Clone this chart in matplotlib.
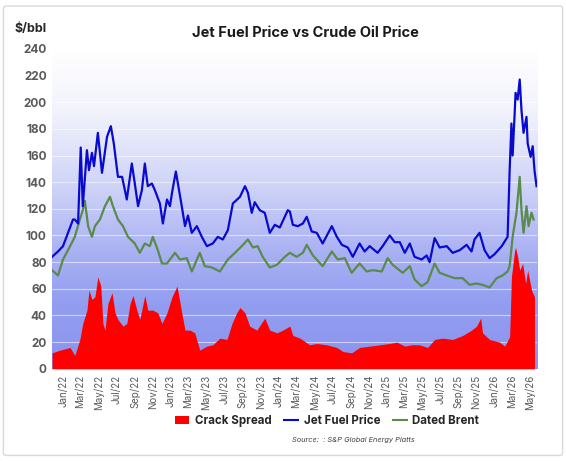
import matplotlib

matplotlib.use("Agg")
import matplotlib.pyplot as plt
import matplotlib.dates as mdates
from matplotlib.colors import LinearSegmentedColormap
from matplotlib.lines import Line2D
from matplotlib.patches import FancyBboxPatch, Patch
import numpy as np
import pandas as pd

plt.rcParams["font.family"] = ["Inter", "DejaVu Sans"]

# Jet fuel price, $/bbl
jet_dates = [
    "2021-11-25", "2021-12-15", "2022-01-01", "2022-02-04", "2022-02-10", "2022-02-21",
    "2022-03-02", "2022-03-09", "2022-03-23", "2022-03-30", "2022-04-09", "2022-04-16",
    "2022-04-29", "2022-05-13", "2022-05-30", "2022-06-12", "2022-06-22", "2022-07-06",
    "2022-07-20", "2022-08-05", "2022-08-22", "2022-09-01", "2022-09-12", "2022-09-25",
    "2022-10-05", "2022-10-15", "2022-10-29", "2022-11-08", "2022-11-25", "2022-12-05",
    "2022-12-19", "2022-12-29", "2023-01-05", "2023-01-18",
    "2023-02-07", "2023-02-18", "2023-02-28", "2023-03-13", "2023-03-30", "2023-04-16",
    "2023-05-03", "2023-05-23", "2023-06-09", "2023-06-26", "2023-07-13", "2023-07-30",
    "2023-08-23", "2023-09-09", "2023-09-19", "2023-10-02", "2023-10-12", "2023-10-29",
    "2023-11-15", "2023-12-02", "2023-12-19", "2024-01-05", "2024-02-01", "2024-02-08",
    "2024-02-18", "2024-03-06", "2024-03-23", "2024-04-05", "2024-04-22", "2024-05-09",
    "2024-05-29", "2024-06-29", "2024-07-16", "2024-08-02", "2024-08-22", "2024-09-08",
    "2024-10-01", "2024-10-18", "2024-11-04", "2024-12-01", "2024-12-18", "2025-01-11",
    "2025-01-28", "2025-02-14", "2025-03-03", "2025-03-20", "2025-04-05", "2025-04-29",
    "2025-05-16", "2025-05-26", "2025-06-12", "2025-06-29", "2025-07-23", "2025-08-12",
    "2025-09-05", "2025-09-28", "2025-10-15", "2025-10-25", "2025-11-11", "2025-11-28",
    "2025-12-15", "2026-01-01", "2026-01-25", "2026-02-14", "2026-02-21", "2026-02-27",
    "2026-03-03", "2026-03-10", "2026-03-13", "2026-03-20", "2026-03-27", "2026-04-02",
    "2026-04-09", "2026-04-19", "2026-04-23", "2026-05-03", "2026-05-10", "2026-05-16",
    "2026-05-23",
]
jet_price = [
    84, 88, 92, 112, 112, 109,
    166, 122, 164, 149, 162, 152,
    177, 147, 174, 182, 169, 144,
    144, 127, 154, 139, 122, 134,
    154, 137, 139, 134, 124, 109,
    127, 122, 132, 148,
    122, 107, 115, 102, 107, 99,
    92, 94, 99, 97, 104, 124,
    129, 137, 132, 117, 125, 119,
    117, 102, 108, 106, 119, 118,
    108, 107, 109, 114, 103, 102,
    94, 107, 99, 93, 91, 84,
    94, 88, 92, 87, 92, 100,
    95, 95, 87, 94, 84, 82,
    85, 80, 98, 91, 92, 87,
    89, 93, 88, 97, 102, 89,
    83, 86, 92, 99, 149, 184,
    160, 192, 207, 202, 217, 194,
    177, 189, 169, 159, 167, 149,
    137,
]

# Dated Brent, $/bbl
brent_dates = [
    "2021-11-25", "2021-12-15", "2022-01-01", "2022-01-25", "2022-02-10", "2022-02-27",
    "2022-03-09", "2022-03-16", "2022-03-27", "2022-04-09", "2022-04-19", "2022-05-06",
    "2022-05-23", "2022-06-09", "2022-06-19", "2022-07-06", "2022-07-23", "2022-08-09",
    "2022-09-01", "2022-09-18", "2022-10-05", "2022-10-22", "2022-11-01", "2022-11-18",
    "2022-12-02", "2022-12-19", "2023-01-15",
    "2023-02-01", "2023-02-24", "2023-03-13", "2023-04-09", "2023-04-26", "2023-05-20",
    "2023-06-16", "2023-07-13", "2023-08-06", "2023-08-29", "2023-09-19", "2023-10-06",
    "2023-10-22", "2023-11-08", "2023-12-02", "2023-12-26", "2024-01-22", "2024-02-08",
    "2024-03-02", "2024-03-23", "2024-04-05", "2024-04-26", "2024-05-29", "2024-06-29",
    "2024-07-19", "2024-08-12", "2024-09-04", "2024-10-01", "2024-10-25", "2024-11-14",
    "2024-12-15", "2025-01-04", "2025-01-21", "2025-02-24", "2025-03-20", "2025-04-05",
    "2025-04-29", "2025-05-19", "2025-06-12", "2025-06-29", "2025-07-23", "2025-08-19",
    "2025-09-15", "2025-10-08", "2025-11-01", "2025-11-21", "2025-12-15", "2026-01-08",
    "2026-01-28", "2026-02-14", "2026-02-21", "2026-03-03", "2026-03-16", "2026-03-27",
    "2026-04-02", "2026-04-09", "2026-04-19", "2026-04-26", "2026-05-06", "2026-05-13",
]
brent_price = [
    74, 70, 82, 92, 99, 112,
    119, 126, 107, 99, 107, 112,
    122, 129, 122, 112, 107, 99,
    94, 87, 94, 92, 99, 89,
    79, 79, 87,
    82, 83, 73, 87, 77, 76,
    73, 82, 87, 92, 97, 91,
    92, 84, 76, 78, 84, 87,
    84, 87, 93, 85, 77, 88,
    82, 83, 72, 79, 73, 74,
    73, 83, 78, 72, 77, 67,
    62, 65, 79, 72, 70, 68,
    68, 63, 64, 63, 61, 68,
    70, 73, 77, 99, 117, 144,
    119, 102, 122, 107, 117, 112,
]

# Crack spread, $/bbl
crack_dates = [
    "2021-11-25", "2021-12-22", "2022-01-25", "2022-02-10", "2022-02-27", "2022-03-09",
    "2022-03-23", "2022-03-30", "2022-04-09", "2022-04-19", "2022-04-29", "2022-05-09",
    "2022-05-16", "2022-05-23", "2022-06-02", "2022-06-16", "2022-06-26", "2022-07-06",
    "2022-07-23", "2022-08-05", "2022-08-16", "2022-08-26", "2022-09-08", "2022-09-18",
    "2022-10-05", "2022-10-15", "2022-11-01", "2022-11-18", "2022-12-02", "2022-12-19",
    "2023-01-05", "2023-01-22", "2023-02-07", "2023-02-18",
    "2023-03-07", "2023-03-23", "2023-04-09", "2023-05-03", "2023-05-23", "2023-06-16",
    "2023-07-10", "2023-07-27", "2023-08-12", "2023-08-23", "2023-09-09", "2023-09-25",
    "2023-10-19", "2023-11-15", "2023-12-02", "2023-12-26", "2024-01-15", "2024-02-08",
    "2024-02-18", "2024-03-13", "2024-04-15", "2024-05-09", "2024-06-12", "2024-07-16",
    "2024-08-05", "2024-09-04", "2024-10-01", "2024-11-04", "2024-12-08", "2025-01-11",
    "2025-02-04", "2025-03-03", "2025-03-26", "2025-04-22", "2025-05-19", "2025-06-12",
    "2025-07-09", "2025-08-12", "2025-09-15", "2025-10-15", "2025-11-01", "2025-11-15",
    "2025-11-21", "2025-12-15", "2026-01-18", "2026-02-04", "2026-02-21", "2026-02-27",
    "2026-03-10", "2026-03-13", "2026-03-20", "2026-03-27", "2026-04-06", "2026-04-16",
    "2026-04-23", "2026-05-06", "2026-05-16",
]
crack_spread = [
    12, 14, 16, 10, 22, 34,
    44, 59, 52, 54, 69, 62,
    34, 29, 49, 57, 42, 37,
    32, 34, 49, 55, 44, 37,
    55, 44, 44, 42, 34, 42,
    54, 62, 42, 29,
    29, 27, 14, 17, 18, 23,
    22, 34, 42, 46, 42, 32,
    29, 38, 29, 27, 29, 32,
    25, 23, 18, 19, 18, 16,
    13, 12, 16, 17, 18, 19,
    20, 17, 18, 18, 16, 22,
    23, 22, 25, 29, 32, 38,
    27, 22, 20, 17, 24, 69,
    89, 91, 84, 74, 79, 64,
    74, 59, 54,
]

y_ticks = list(range(0, 241, 20))
x_start, x_end = "2021-11-25", "2026-05-25"

jet = pd.Series(jet_price, index=pd.to_datetime(jet_dates))
brent = pd.Series(brent_price, index=pd.to_datetime(brent_dates))
crack = pd.Series(crack_spread, index=pd.to_datetime(crack_dates))

fig = plt.figure(figsize=(5.66, 4.61), dpi=100)
fig.patch.set_facecolor("#FFFFFF")
fig.patches.append(
    FancyBboxPatch(
        (0.006, 0.012), 0.988, 0.975,
        boxstyle="round,pad=0,rounding_size=0.006",
        transform=fig.transFigure, facecolor="none", edgecolor="#D9D9D9", lw=1.0,
    )
)
ax = fig.add_axes([0.092, 0.2, 0.857, 0.694])

x0 = mdates.date2num(pd.Timestamp(x_start))
x1 = mdates.date2num(pd.Timestamp(x_end))
bg_cmap = LinearSegmentedColormap.from_list(
    "bg",
    [(0.0, "#8A94EF"), (0.2, "#939DF0"), (0.35, "#A7AFF3"), (0.55, "#CBD0F7"), (0.8, "#F1F2FC"), (1.0, "#FFFFFF")],
)
grad = np.linspace(0, 1, 256).reshape(-1, 1)
ax.imshow(grad, extent=[x0, x1, 0, 240], origin="lower", aspect="auto", cmap=bg_cmap, zorder=0)

for yv in y_ticks[1:]:
    ax.axhline(yv, color="#FFFFFF", lw=0.8, alpha=0.55, zorder=1)

ax.fill_between(crack.index, 0, crack.values, color="#FF0000", lw=0, zorder=2)
ax.plot(brent.index, brent.values, color="#5A8A4C", lw=1.6, zorder=3)
ax.plot(jet.index, jet.values, color="#0A0ACF", lw=1.6, zorder=4)

ax.set_xlim(x0, x1)
ax.set_ylim(0, 240)
ax.set_yticks(y_ticks)
ax.tick_params(axis="y", length=0, pad=4, labelsize=8.5, labelcolor="#595959")
for lbl in ax.get_yticklabels():
    lbl.set_fontweight("bold")
ax.xaxis.set_major_locator(mdates.MonthLocator(bymonth=[1, 3, 5, 7, 9, 11]))
ax.xaxis.set_major_formatter(mdates.DateFormatter("%b/%y"))
ax.tick_params(axis="x", length=0, pad=4, labelsize=7, labelcolor="#595959", rotation=90)
for spine in ax.spines.values():
    spine.set_visible(False)

fig.text(0.054, 0.938, "$/bbl", fontsize=9, fontweight="bold", color="#262626", ha="center", va="center")
fig.text(0.54, 0.928, "Jet Fuel Price vs Crude Oil Price", fontsize=10.5, fontweight="bold", color="#1A1A1A", ha="center", va="center")

handles = [
    Patch(facecolor="#FF0000", edgecolor="none"),
    Line2D([], [], color="#0A0ACF", lw=1.5),
    Line2D([], [], color="#5A8A4C", lw=1.5),
]
fig.legend(
    handles, ["Crack Spread", "Jet Fuel Price", "Dated Brent"],
    loc="center", bbox_to_anchor=(0.578, 0.087), ncol=3, frameon=False,
    prop={"size": 8.3, "weight": "bold"}, labelcolor="#262626",
    handlelength=1.2, handletextpad=0.5, columnspacing=1.1,
)
fig.text(0.624, 0.045, "Source:  : S&P Global Energy Platts", fontsize=5.3, style="italic", color="#404040", ha="center", va="center")

fig.savefig("out.png", dpi=100)
plt.close(fig)
